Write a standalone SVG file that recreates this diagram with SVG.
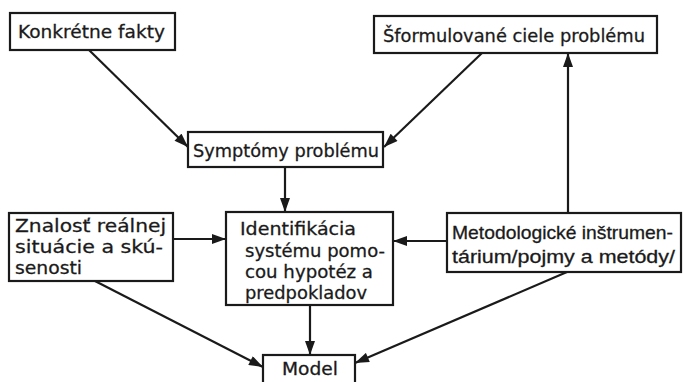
<svg xmlns="http://www.w3.org/2000/svg" width="683" height="382" viewBox="0 0 683 382">
<style>
.box{fill:#fff;stroke:#1a1a1a;stroke-width:2.2}
.t{font-family:"DejaVu Sans","Liberation Sans",sans-serif;font-size:18.5px;fill:#1a1a1a;stroke:#1a1a1a;stroke-width:0.3}
.n{font-family:"Liberation Sans","DejaVu Sans",sans-serif;font-size:19px}
.c{fill:none;stroke:#1a1a1a;stroke-width:2.2}
</style>
<defs>
<marker id="ah" viewBox="0 0 14 10" refX="14" refY="5" markerWidth="15" markerHeight="10" markerUnits="userSpaceOnUse" orient="auto">
<path d="M0,0 L14,5 L0,10 Z" fill="#1a1a1a"/>
</marker>
</defs>
<rect width="683" height="382" fill="#fff"/>
<g id="connectors">
<line class="c" x1="89" y1="50" x2="188" y2="147" marker-end="url(#ah)"/>
<line class="c" x1="482" y1="53" x2="384" y2="147" marker-end="url(#ah)"/>
<line class="c" x1="568" y1="213" x2="568" y2="53" marker-end="url(#ah)"/>
<line class="c" x1="285" y1="167" x2="285" y2="212" marker-end="url(#ah)"/>
<line class="c" x1="173" y1="239" x2="226" y2="239" marker-end="url(#ah)"/>
<line class="c" x1="447" y1="241" x2="393" y2="241" marker-end="url(#ah)"/>
<line class="c" x1="310" y1="305" x2="310" y2="355" marker-end="url(#ah)"/>
<line class="c" x1="95" y1="281" x2="263" y2="367" marker-end="url(#ah)"/>
<line class="c" x1="567" y1="272" x2="355" y2="363" marker-end="url(#ah)"/>
</g>
<g id="konkretne">
<rect class="box" x="10" y="13" width="165" height="37"/>
<text class="t" x="18" y="38" textLength="147" lengthAdjust="spacingAndGlyphs">Konkrétne fakty</text>
</g>
<g id="sformulovane">
<rect class="box" x="374" y="16" width="283" height="37"/>
<text class="t" x="383" y="42" textLength="262" lengthAdjust="spacingAndGlyphs">Šformulované ciele problému</text>
</g>
<g id="symptomy">
<rect class="box" x="188" y="132" width="195" height="35"/>
<text class="t" x="193" y="157" textLength="186" lengthAdjust="spacingAndGlyphs">Symptómy problému</text>
</g>
<g id="znalost">
<rect class="box" x="9" y="213" width="164" height="68"/>
<text class="t" x="15" y="232" textLength="151" lengthAdjust="spacingAndGlyphs">Znalosť reálnej</text>
<text class="t" x="15" y="253" textLength="148" lengthAdjust="spacingAndGlyphs">situácie a skú-</text>
<text class="t" x="15" y="274" textLength="67" lengthAdjust="spacingAndGlyphs">senosti</text>
</g>
<g id="identifikacia">
<rect class="box" x="226" y="212" width="167" height="93"/>
<text class="t" x="240" y="235" textLength="116" lengthAdjust="spacingAndGlyphs">Identifikácia</text>
<text class="t" x="245" y="257" textLength="140" lengthAdjust="spacingAndGlyphs">systému pomo-</text>
<text class="t" x="245" y="278" textLength="128" lengthAdjust="spacingAndGlyphs">cou hypotéz a</text>
<text class="t" x="245" y="299" textLength="122" lengthAdjust="spacingAndGlyphs">predpokladov</text>
</g>
<g id="metodologicke">
<rect class="box" x="447" y="213" width="234" height="59"/>
<text class="t n" x="452" y="239" textLength="221" lengthAdjust="spacingAndGlyphs">Metodologické inštrumen-</text>
<text class="t n" x="452" y="263" textLength="223" lengthAdjust="spacingAndGlyphs">tárium/pojmy a metódy/</text>
</g>
<g id="model">
<rect class="box" x="263" y="355" width="92" height="35"/>
<text class="t" x="282" y="375" textLength="56" lengthAdjust="spacingAndGlyphs">Model</text>
</g>
</svg>
